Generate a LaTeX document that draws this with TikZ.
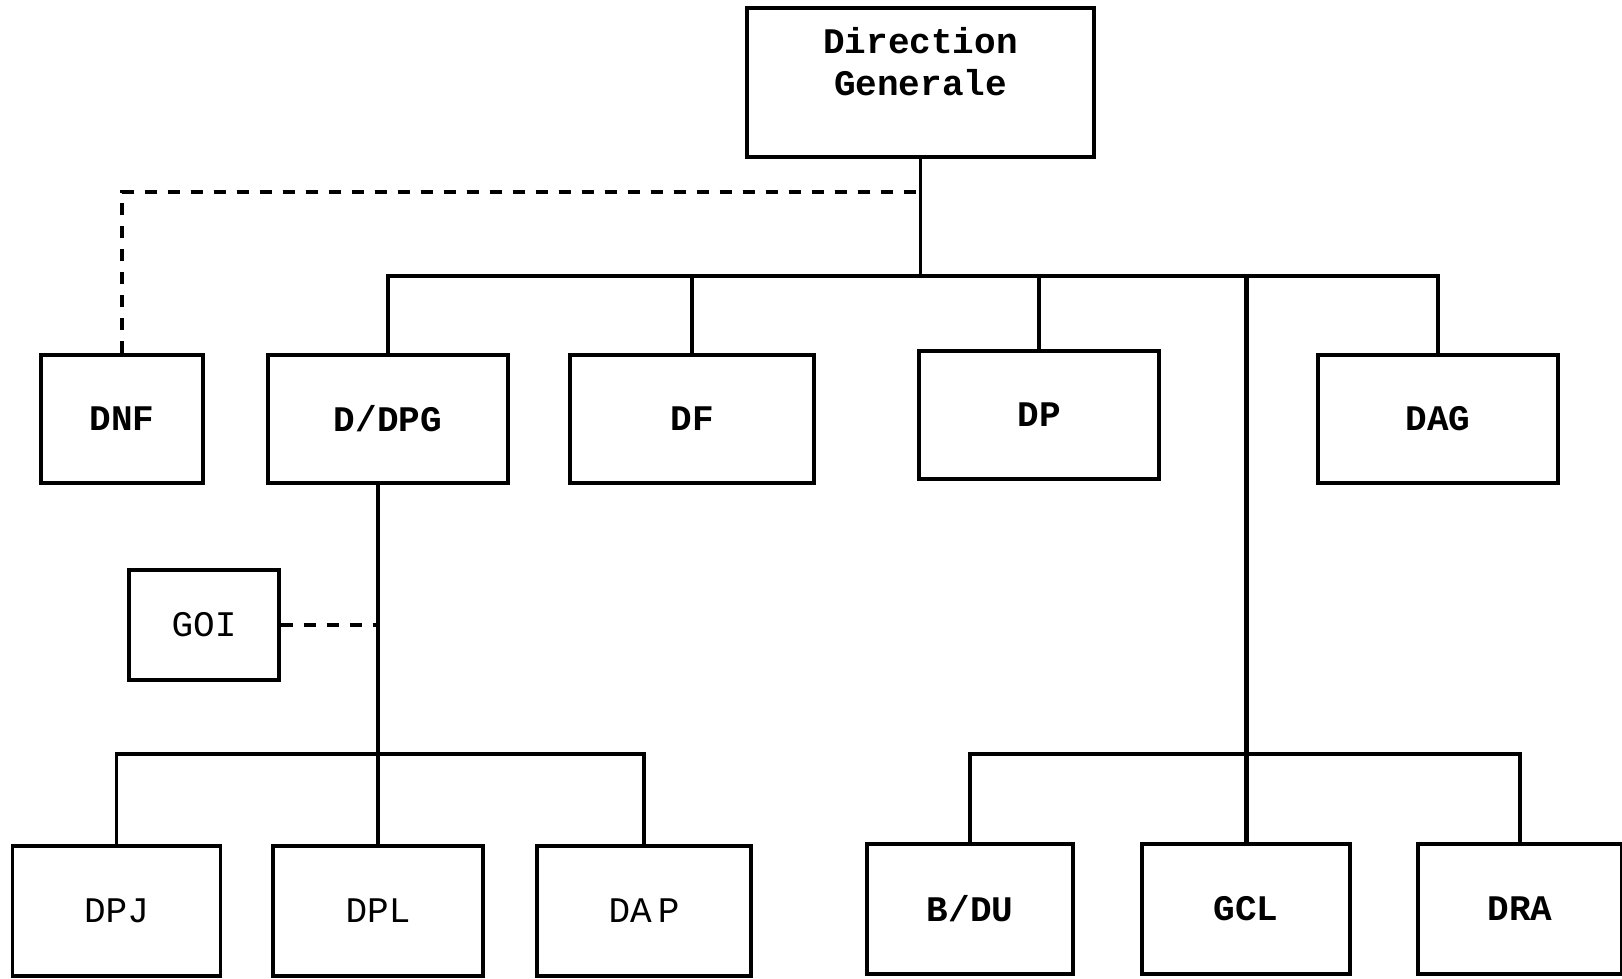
\documentclass[tikz,border=0pt]{standalone}
\usepackage{fontspec}
\setmonofont{Liberation Mono}
\usetikzlibrary{positioning}
\tikzset{unit/.style={draw,line width=1.7pt,inner sep=0pt,font=\ttfamily\bfseries\fontsize{18}{21}\selectfont},
  plain/.style={unit,font=\ttfamily\fontsize{18}{21}\selectfont},
  upper/.style={minimum width=120pt,minimum height=64pt},
  lower/.style={minimum width=104pt,minimum height=65pt},
  line/.style={line width=1.6pt},
  mainline/.style={line width=2.5pt},
  dashline/.style={line width=1.8pt,dash pattern=on 6pt off 5.5pt}}

\begin{document}
\begin{tikzpicture}[x=0.5pt,y=-0.5pt]
\useasboundingbox (0,0) rectangle (1622,979);
\coordinate (topbus) at (0,276);
\coordinate (dashbus) at (0,192);
\coordinate (lowbus) at (0,754);
% top
\node[unit,minimum width=173.5pt,minimum height=74.5pt,align=center] (dg) at (920.5,82.5) {Direction\\Generale\\\mbox{}};
% first level
\node[unit,minimum width=81pt,minimum height=64pt] (dnf) at (122,419) {DNF};
\node[unit,upper] (dpg) at (388,419) {D/DPG};
\node[unit,upper,minimum width=122pt] (df) at (692,419) {DF};
\node[unit,upper] (dp) at (1039,415) {DP};
\node[unit,upper] (dag) at (1438,419) {DAG};
% second level
\node[plain,minimum width=75pt,minimum height=55pt] (goi) at (204,625) {GOI};
\node[plain,lower] (dpj) at (116.5,911) {DPJ};
\node[plain,lower,minimum width=105pt] (dpl) at (378,911) {DPL};
\node[plain,lower,minimum width=107pt] (dap) at (644,911) {DA\,P};
\node[unit,lower,minimum width=103pt] (bdu) at (970,909) {B/DU};
\node[unit,lower] (gcl) at (1246,909) {GCL};
\node[unit,lower,minimum width=102pt] (dra) at (1520,909) {DRA};

\draw[line] (dg.south) -- (dg.south |- topbus);
\draw[line] (dpg.north) -- (dpg.north |- topbus) -- (dag.north |- topbus) -- (dag.north);
\draw[line] (df.north) -- (df.north |- topbus);
\draw[line] (dp.north) -- (dp.north |- topbus);
\draw[dashline] (dnf.north) -- (dnf.north |- dashbus) -- (dg.south |- dashbus);

\draw[line] (dpl.north) -- (dpl.north |- dpg.south);
\draw[dashline] (goi.east) -- (goi.east -| dpl.north);
\draw[line] (dpj.north) -- (dpj.north |- lowbus) -- (dap.north |- lowbus) -- (dap.north);

\draw[mainline] (gcl.north) -- (gcl.north |- topbus);
\draw[line] (bdu.north) -- (bdu.north |- lowbus) -- (dra.north |- lowbus) -- (dra.north);
\end{tikzpicture}
\end{document}
